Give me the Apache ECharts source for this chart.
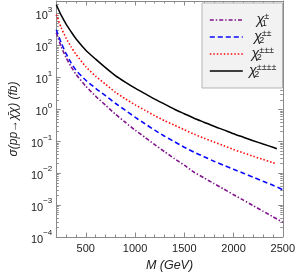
<!DOCTYPE html>
<html><head><meta charset="utf-8">
<script src="https://cdn.jsdelivr.net/npm/echarts@6/dist/echarts.min.js"></script>
<style>html,body{margin:0;padding:0;background:#fff}#c{width:298px;height:277px}</style>
</head><body><div id="c"></div>
<script>
// Masses (GeV)
const massesA = [200,250,300,350,400,500,600,700,800,900,1000,1100,1200,1300,1400,1500,1600,1700,1800,1900,2000,2100,2200,2300,2400,2440];
const massesB = [200,250,300,350,400,500,600,700,800,900,1000,1100,1200,1300,1400,1500,1600,1700,1800,1900,2000,2100,2200,2300,2400,2500];
// Cross sections (fb)
const sigmaChi1 = [254,92.5,41.8,21.8,12.7,5.33,2.59,1.355,0.708,0.397,0.223,0.1345,0.0782,0.0472,0.0285,0.0178,0.0107,0.00713,0.00475,0.0032,0.00212,0.00143,0.000957,0.000644,0.000432,0.000291];
const sigmaChi2pp = [315,123,55.7,29.1,16.9,8.2,4.6,2.69,1.56,0.944,0.569,0.356,0.223,0.1445,0.0971,0.0653,0.0455,0.0329,0.0238,0.0178,0.0133,0.0100,0.0075,0.00561,0.00421,0.00304];
const sigmaChi2ppp = [931,364,171,92.5,53.7,21.8,11.0,6.17,3.46,2.16,1.40,0.944,0.635,0.443,0.320,0.231,0.167,0.125,0.095,0.0728,0.0553,0.0433,0.0339,0.0269,0.0213,0.0194];
const sigmaChi2pppp = [1914,897,469,273,164,71.8,37.5,20.3,11.4,7.12,4.62,3.11,2.09,1.456,1.014,0.733,0.530,0.397,0.297,0.228,0.173,0.1345,0.1045,0.0823,0.0653,0.0586];
const seriesNames = ['χ₁±','χ₂±±','χ₂±±±','χ₂±±±±'];
const legendSub = ['1','2','2','2'];
const legendSup = ['±','±±','±±±','±±±±'];
const xMajorTicks = [500,1000,1500,2000,2500];

const font = "'Liberation Sans', Arial, sans-serif";
const frameColor = '#8a8a8a';
function pairs(xs, ys){ return xs.map((x,i)=>[x, ys[i]]); }
function supText(e){ return (e<0?'\u2212':'') + Math.abs(e); }

const chart = echarts.init(document.getElementById('c'), null, {renderer:'canvas'});
const baseX = {
  type:'value', min:200, max:2500, gridIndex:0,
  splitLine:{show:false},
  axisLine:{show:true, onZero:false, lineStyle:{color:frameColor, width:1}},
};
const baseY = {
  type:'log', logBase:10, min:1e-4, max:2500,
  splitLine:{show:false},
  axisLine:{show:true, onZero:false, lineStyle:{color:frameColor, width:1}},
};
chart.setOption({
  animation:false,
  backgroundColor:'#fff',
  grid:{left:47, right:14, top:1, bottom:40, containLabel:false},
  xAxis:[
    Object.assign({}, baseX, {position:'bottom', interval:100,
      axisTick:{show:true, inside:true, length:2.5, lineStyle:{color:frameColor}},
      axisLabel:{show:true, interval:0, margin:6, color:'#222', fontSize:11, fontFamily:font,
        formatter:v=> (xMajorTicks.indexOf(v)>=0 ? String(v) : '')},
      name:'M (GeV)', nameLocation:'middle', nameGap:18,
      nameTextStyle:{fontStyle:'italic', fontSize:12.5, color:'#222', fontFamily:font}}),
    Object.assign({}, baseX, {position:'bottom',
      axisLine:{show:false}, axisLabel:{show:false},
      axisTick:{show:true, inside:true, length:4.5, customValues:xMajorTicks, lineStyle:{color:frameColor}}}),
    Object.assign({}, baseX, {position:'top', interval:100,
      axisTick:{show:true, inside:true, length:2.5, lineStyle:{color:frameColor}},
      axisLabel:{show:false}}),
    Object.assign({}, baseX, {position:'top',
      axisLine:{show:false}, axisLabel:{show:false},
      axisTick:{show:true, inside:true, length:4.5, customValues:xMajorTicks, lineStyle:{color:frameColor}}})
  ],
  yAxis:[
    Object.assign({}, baseY, {position:'left',
      axisTick:{show:true, inside:true, length:4.5, lineStyle:{color:frameColor}},
      minorTick:{show:true, splitNumber:9, length:2.5, lineStyle:{color:frameColor}},
      axisLabel:{show:true, margin:4, color:'#222', fontFamily:font,
        formatter:v=>{const e=Math.round(Math.log10(v)); return '{b|10}{s|'+supText(e)+'}';},
        rich:{b:{fontSize:11, fontFamily:font, color:'#222', lineHeight:16, verticalAlign:'bottom'},
              s:{fontSize:8, fontFamily:font, color:'#222', lineHeight:16, verticalAlign:'top', padding:[0,0,6,0]}}},
      name:'σ(pp→χ\u0304χ) (fb)', nameLocation:'middle', nameGap:36, nameRotate:90,
      nameTextStyle:{fontStyle:'italic', fontSize:12, color:'#222', fontFamily:font}}),
    Object.assign({}, baseY, {position:'right',
      axisTick:{show:true, inside:true, length:4.5, lineStyle:{color:frameColor}},
      minorTick:{show:true, splitNumber:9, length:2.5, lineStyle:{color:frameColor}},
      axisLabel:{show:false}})
  ],
  legend:{
    show:true, orient:'vertical', left:202, top:3,
    backgroundColor:'#f2f2f2', borderColor:'#b5b5b5', borderWidth:1, borderRadius:0,
    padding:[9,6,9,7], itemWidth:33, itemHeight:10, itemGap:1,
    itemStyle:{opacity:0},
    lineStyle:{width:1.6},
    data:seriesNames,
    formatter:name=>{const i=seriesNames.indexOf(name);
      return '{c|χ}{sb|'+legendSub[i]+'}{sp|'+legendSup[i]+'}';},
    textStyle:{fontFamily:font, color:'#222', width:30,
      rich:{
        c:{fontSize:14, fontStyle:'italic', fontFamily:font, color:'#222', lineHeight:16, align:'center'},
        sb:{fontSize:9, fontFamily:font, color:'#222', lineHeight:16, verticalAlign:'bottom', width:0, align:'center'},
        sp:{fontSize:9, fontFamily:font, color:'#222', lineHeight:16, verticalAlign:'top', align:'center'}
      }}
  },
  series:[
    {name:seriesNames[0], type:'line', xAxisIndex:0, yAxisIndex:0, data:pairs(massesB, sigmaChi1),
      symbol:'none', smooth:0.2, lineStyle:{color:'#80148c', width:1.6, type:[4,2,1.4,2]}, itemStyle:{color:'#80148c'}},
    {name:seriesNames[1], type:'line', xAxisIndex:0, yAxisIndex:0, data:pairs(massesB, sigmaChi2pp),
      symbol:'none', smooth:0.2, lineStyle:{color:'#0a0aff', width:1.6, type:[5,3]}, itemStyle:{color:'#0a0aff'}},
    {name:seriesNames[2], type:'line', xAxisIndex:0, yAxisIndex:0, data:pairs(massesA, sigmaChi2ppp),
      symbol:'none', smooth:0.2, lineStyle:{color:'#ff0a0a', width:1.6, type:[1.5,2]}, itemStyle:{color:'#ff0a0a'}},
    {name:seriesNames[3], type:'line', xAxisIndex:0, yAxisIndex:0, data:pairs(massesA, sigmaChi2pppp),
      symbol:'none', smooth:0.2, lineStyle:{color:'#000', width:1.5, type:'solid'}, itemStyle:{color:'#000'}}
  ]
});
</script></body></html>
